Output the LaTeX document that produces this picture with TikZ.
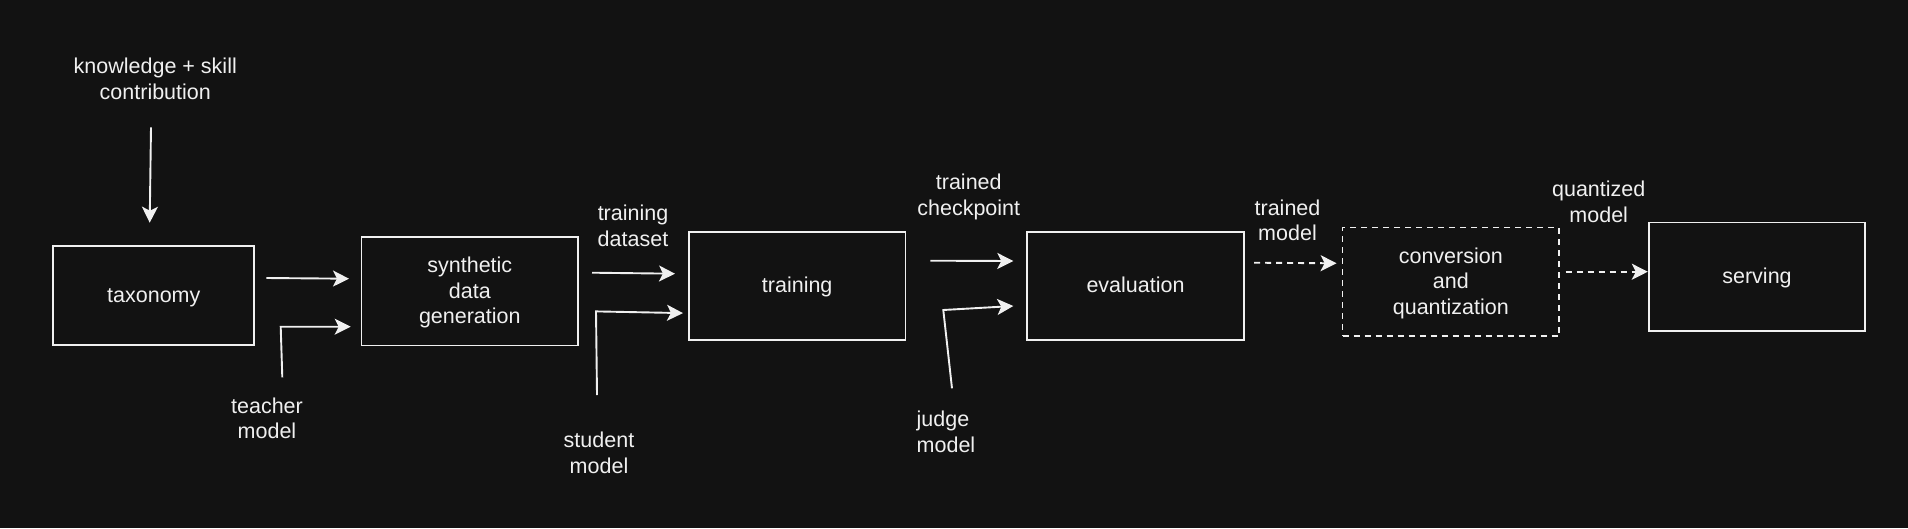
\documentclass[tikz,border=0pt]{standalone}
\usepackage{fontspec}
\setmainfont{Liberation Sans}
\usetikzlibrary{arrows.meta}
\definecolor{bg}{HTML}{121212}
\definecolor{fg}{HTML}{F0F0F0}
\newcommand\boxtxt[1]{\raisebox{-2pt}[\height][\depth]{\begin{tabular}{@{}c@{}}#1\end{tabular}}}
\begin{document}
\begin{tikzpicture}[x=1pt,y=-1pt,
  every node/.style={text=fg,font=\fontsize{21.5}{25.5}\selectfont,align=center,inner sep=0pt},
  box/.style={draw=fg,line width=1.8pt,minimum width=216.5pt,minimum height=108.5pt},
  dbox/.style={box,dash pattern=on 6pt off 5pt},
  conn/.style={draw=fg,line width=1.9pt,-{Stealth[length=16pt,width=16pt,inset=4pt]}},
  dconn/.style={conn,dash pattern=on 6pt off 5pt},
  lbl/.style={}]
\fill[bg] (0,0) rectangle (1908,528);
\useasboundingbox (0,0) rectangle (1908,528);
% boxes
\node[box,minimum width=201pt,minimum height=99pt] (tax) at (153.8,295.5) {\boxtxt{taxonomy}};
\node[box] (syn) at (469.8,291.2) {\boxtxt{synthetic\\data\\generation}};
\node[box,minimum height=108.3pt] (train) at (797.2,285.8) {\boxtxt{training}};
\node[box,minimum height=108.3pt] (eval) at (1135.5,285.8) {\boxtxt{evaluation}};
\node[dbox] (conv) at (1450.8,281.8) {\boxtxt{conversion\\and\\quantization}};
\node[box] (serv) at (1757,276.8) {\boxtxt{serving}};
% labels
\node[lbl] (know) at (155.3,78.8) {knowledge + skill\\contribution};
\node[lbl] (teach) at (267,418.3) {teacher\\model};
\node[lbl] (tds) at (633,226) {training\\dataset};
\node[lbl] (stud) at (599,452.9) {student\\model};
\node[lbl] (tck) at (968.75,196.7) {trained\\checkpoint};
\node[lbl,align=left,anchor=west] (judge) at (916.5,432) {judge\\model};
\node[lbl] (tmod) at (1287.5,220.3) {trained\\model};
\node[lbl] (qmod) at (1598.7,202) {quantized\\model};
% connector end points
\coordinate (k1) at (151,127.3); \coordinate (k2) at (149.7,222.7);
\coordinate (a1) at (266.3,278); \coordinate (a2) at (349,278.7);
\coordinate (t1) at (282.3,377.3); \coordinate (t2) at (280.7,326.7); \coordinate (t3) at (350.7,326.7);
\coordinate (b1) at (592,272.7); \coordinate (b2) at (675,273.7);
\coordinate (s1) at (597,395); \coordinate (s2) at (596,311.4); \coordinate (s3) at (683,313.1);
\coordinate (c1) at (930.3,260.7); \coordinate (c2) at (1013.3,261);
\coordinate (j1) at (952,388.3); \coordinate (j2) at (943.3,310); \coordinate (j3) at (1013.3,306);
\coordinate (d1) at (1254,262.7); \coordinate (d2) at (1336.6,263.3);
\coordinate (e1) at (1565.6,271.7); \coordinate (e2) at (1647.8,271.7);
% connectors
\draw[conn] (k1) -- (k2);
\draw[conn] (a1) -- (a2);
\draw[conn] (t1) -- (t2) -- (t3);
\draw[conn] (b1) -- (b2);
\draw[conn] (s1) -- (s2) -- (s3);
\draw[conn] (c1) -- (c2);
\draw[conn] (j1) -- (j2) -- (j3);
\draw[dconn] (d1) -- (d2);
\draw[dconn] (e1) -- (e2);
\end{tikzpicture}
\end{document}
